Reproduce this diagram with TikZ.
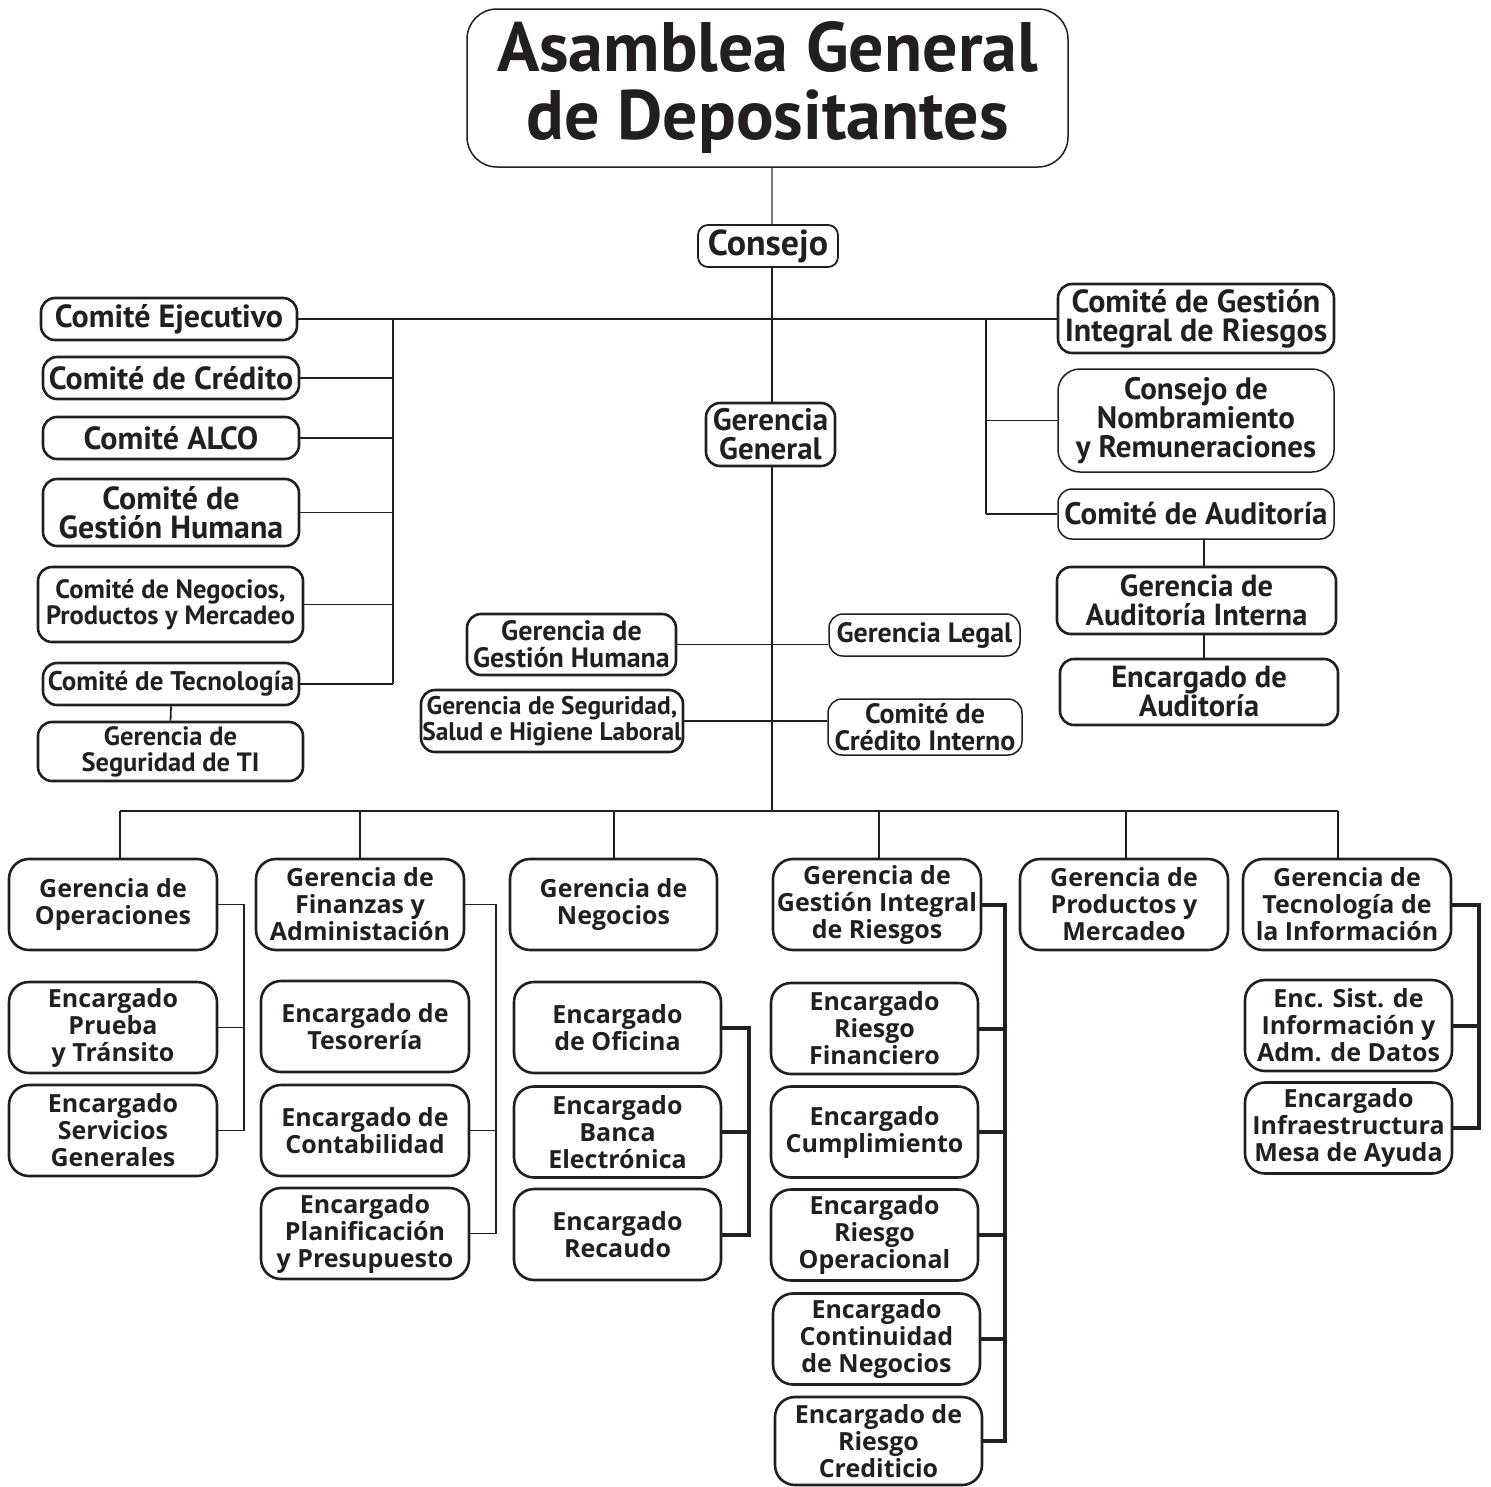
\documentclass[tikz,border=0pt]{standalone}
\usepackage{fontspec}
\setmainfont{PT Sans}
\newfontfamily\opensans{Open Sans}
\definecolor{ink}{HTML}{231F20}
\tikzset{
  box/.style={draw=ink, text=ink, fill=white, rounded corners=14pt,
    line width=2.6pt, align=center, inner sep=0pt},
  thinbox/.style={box, line width=1.5pt},
  link/.style={draw=ink, line width=1.8pt},
  heavy/.style={draw=ink, line width=4pt},
  ftitle/.style={font=\fontsize{70}{68}\selectfont\bfseries},
  fbig/.style={font=\fontsize{36}{36}\selectfont\bfseries},
  fcom/.style={font=\fontsize{32}{29}\selectfont\bfseries},
  fmid/.style={font=\fontsize{28}{27}\selectfont\bfseries},
  fsmall/.style={font=\fontsize{26.5}{26}\selectfont\bfseries},
  fbot/.style={font=\opensans\fontsize{25}{27}\selectfont\bfseries},
  unit/.style={box, fbot, minimum width=208pt, minimum height=91pt, rounded corners=20pt},
}
\begin{document}
\begin{tikzpicture}[x=1pt,y=-1pt]
\useasboundingbox (0,0) rectangle (1491,1486);
% top of the chart
\node[thinbox, ftitle, rounded corners=30pt, minimum width=601pt, minimum height=158pt]
  (asamblea) at (767.5,88) {Asamblea General\\de Depositantes};
\node[box, line width=1.8pt, fbig, minimum width=140pt, minimum height=42pt, rounded corners=10pt]
  (consejo) at (768,246) {Consejo};
\node[box, fcom, font=\fontsize{31}{29}\selectfont\bfseries, minimum width=129pt, minimum height=63pt]
  (ggeneral) at (770.5,434.5) {Gerencia\\General};
\coordinate (spine) at (772,0);
\coordinate (bus) at (772,811);
% committees on the left
\node[box, fcom, minimum width=256pt, minimum height=42pt] (cejec) at (169,319) {Comité Ejecutivo};
\node[box, fcom, minimum width=256pt, minimum height=42pt] (ccred) at (171,378) {Comité de Crédito};
\node[box, fcom, minimum width=256pt, minimum height=42pt] (calco) at (171,438) {Comité ALCO};
\node[box, fcom, minimum width=256pt, minimum height=67pt] (cgh) at (171,512.5) {Comité de\\Gestión Humana};
\node[box, fsmall, minimum width=265pt, minimum height=75pt] (cneg) at (170.5,604.5)
  {Comité de Negocios,\\Productos y Mercadeo};
\node[box, fsmall, font=\fontsize{27}{26}\selectfont\bfseries, minimum width=256pt, minimum height=42pt]
  (ctec) at (171,684) {Comité de Tecnología};
\node[box, fsmall, minimum width=265pt, minimum height=59pt] (gsti) at (170.5,751.5) {Gerencia de\\Seguridad de TI};
% committees on the right
\node[box, fcom, minimum width=276pt, minimum height=69pt] (cgir) at (1196,318.5)
  {Comité de Gestión\\Integral de Riesgos};
\node[thinbox, fcom, font=\fontsize{31}{29}\selectfont\bfseries, minimum width=276pt, minimum height=103pt,
  rounded corners=22pt] (cnom) at (1196,420.5) {Consejo de\\Nombramiento\\y Remuneraciones};
\node[thinbox, fcom, font=\fontsize{31}{29}\selectfont\bfseries, minimum width=276pt, minimum height=50pt]
  (caud) at (1196,514) {Comité de Auditoría};
\node[box, fcom, font=\fontsize{30.5}{29}\selectfont\bfseries, minimum width=279pt, minimum height=67pt]
  (gai) at (1196.5,600.5) {Gerencia de\\Auditoría Interna};
\node[box, fcom, font=\fontsize{30.5}{29}\selectfont\bfseries, minimum width=278pt, minimum height=66pt]
  (eaud) at (1199,692) {Encargado de\\Auditoría};
% staff units beside the spine
\node[box, fmid, minimum width=209pt, minimum height=61pt] (ggh) at (571.5,644.5) {Gerencia de\\Gestión Humana};
\node[thinbox, fmid, minimum width=191pt, minimum height=42pt] (glegal) at (924.5,635) {Gerencia Legal};
\node[box, fsmall, font=\fontsize{25.5}{25.5}\selectfont\bfseries, minimum width=262pt, minimum height=62pt]
  (gssh) at (552,721) {Gerencia de Seguridad,\\Salud e Higiene Laboral};
\node[thinbox, fmid, minimum width=194pt, minimum height=56pt] (ccint) at (925,727) {Comité de\\Crédito Interno};
% managements
\node[unit] (gop) at (113,904.5) {Gerencia de\\Operaciones};
\node[unit] (gfin) at (360,904.5) {Gerencia de\\Finanzas y\\Administación};
\node[unit, minimum width=207pt] (gneg) at (613.5,904.5) {Gerencia de\\Negocios};
\node[unit] (ggir) at (877,904.5) {Gerencia de\\Gestión Integral\\de Riesgos};
\node[unit] (gpm) at (1124,904.5) {Gerencia de\\Productos y\\Mercadeo};
\node[unit] (gti) at (1347,904.5) {Gerencia de\\Tecnología de\\la Información};
% officers
\node[unit] (eprueba) at (113,1027.5) {Encargado\\Prueba\\y Tránsito};
\node[unit] (eserv) at (113,1130.5) {Encargado\\Servicios\\Generales};
\node[unit] (etes) at (365,1026.5) {Encargado de\\Tesorería};
\node[unit] (econt) at (365,1130.5) {Encargado de\\Contabilidad};
\node[unit] (eplan) at (365,1233.5) {Encargado\\Planificación\\y Presupuesto};
\node[unit, minimum width=207pt] (eofi) at (617.5,1027.5) {Encargado\\de Oficina};
\node[unit, minimum width=207pt] (ebanca) at (617.5,1132) {Encargado\\Banca\\Electrónica};
\node[unit, minimum width=207pt] (erec) at (617.5,1234.5) {Encargado\\Recaudo};
\node[unit, minimum width=207pt] (erf) at (874.5,1028.5) {Encargado\\Riesgo\\Financiero};
\node[unit, minimum width=207pt] (ecum) at (874.5,1132) {Encargado\\Cumplimiento};
\node[unit, minimum width=207pt] (erop) at (874.5,1235) {Encargado\\Riesgo\\Operacional};
\node[unit, minimum width=207pt] (econ) at (876.5,1339) {Encargado\\Continuidad\\de Negocios};
\node[unit, minimum width=207pt, minimum height=88pt] (ercred) at (878.5,1441) {Encargado de\\Riesgo\\Crediticio};
\node[unit, minimum width=207pt] (esist) at (1348.5,1025.5) {Enc. Sist. de\\Información y\\Adm. de Datos};
\node[unit, minimum width=207pt] (einfra) at (1348.5,1128) {Encargado\\Infraestructura\\Mesa de Ayuda};
% spine
\draw[draw=ink!60, line width=1.2pt] (asamblea.south -| spine) -- (consejo.north -| spine);
\draw[link] (consejo.south -| spine) -- (ggeneral.north -| spine);
\draw[link] (ggeneral.south -| spine) -- (bus);
% committee bars
\draw[link] (cejec.east) -- (cejec.east -| cgir.west);
\coordinate (lbar) at (393,319);
\coordinate (rbar) at (986,319);
\draw[link] (lbar) -- (lbar |- ctec.east);
\foreach \n in {ccred,calco,cgh,cneg,ctec}
  \draw[link] (\n.east) -- (\n.east -| lbar);
\draw[link] (rbar) -- (rbar |- caud.west);
\foreach \n in {cnom,caud}
  \draw[link] (\n.west) -- (\n.west -| rbar);
\draw[link] (ctec.south) -- (gsti.north);
\draw[link] (caud.south -| 1204,0) -- (gai.north -| 1204,0);
\draw[link] (gai.south -| 1204,0) -- (eaud.north -| 1204,0);
\draw[link] (ggh.east) -- (ggh.east -| glegal.west);
\draw[link] (gssh.east) -- (gssh.east -| ccint.west);
% bottom bus
\draw[link] (120,811) -- (1338,811);
\foreach \n/\x in {gop/120,gfin/360,gneg/614,ggir/879,gpm/1126,gti/1338}
  \draw[link] (\x,811) -- (\n.north -| \x,0);
% brackets
\coordinate (opbar) at (244,0);
\draw[link] (gop.east) -- (gop.east -| opbar) -- (opbar |- eserv.east) -- (eserv.east);
\draw[link] (eprueba.east) -- (eprueba.east -| opbar);
\coordinate (finbar) at (496,0);
\draw[link] (gfin.east) -- (gfin.east -| finbar) -- (finbar |- eplan.east) -- (eplan.east);
\draw[link] (econt.east) -- (econt.east -| finbar);
\coordinate (negbar) at (749,0);
\draw[heavy] (eofi.east) -- (eofi.east -| negbar) -- (negbar |- erec.east) -- (erec.east);
\draw[heavy] (ebanca.east) -- (ebanca.east -| negbar);
\coordinate (girbar) at (1005,0);
\draw[heavy] (ggir.east) -- (ggir.east -| girbar) -- (girbar |- ercred.east) -- (ercred.east);
\foreach \n in {erf,ecum,erop,econ}
  \draw[heavy] (\n.east) -- (\n.east -| girbar);
\coordinate (tibar) at (1479,0);
\draw[heavy] (gti.east) -- (gti.east -| tibar) -- (tibar |- einfra.east) -- (einfra.east);
\draw[heavy] (esist.east) -- (esist.east -| tibar);
\end{tikzpicture}
\end{document}
